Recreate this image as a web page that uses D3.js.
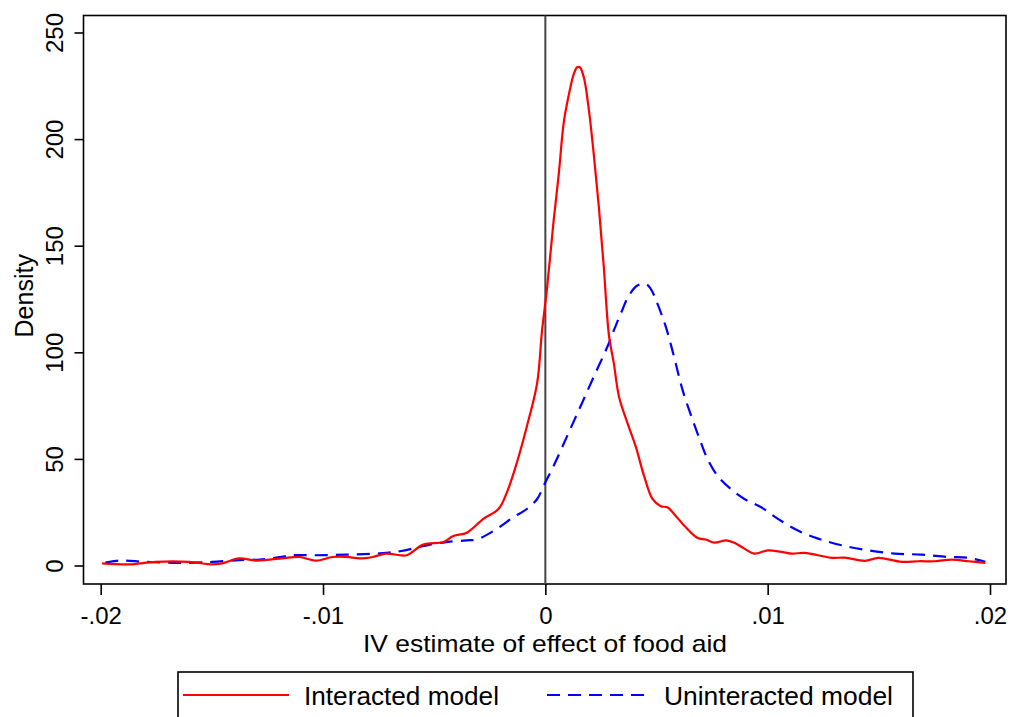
<!DOCTYPE html>
<html>
<head>
<meta charset="utf-8">
<script src="https://cdn.jsdelivr.net/npm/d3@7"></script>
<style>
  html, body { margin: 0; padding: 0; background: #fff; }
  svg { display: block; }
  text { font-family: "Liberation Sans", Arial, sans-serif; fill: #000; }
</style>
</head>
<body>
<svg id="chart" width="1010" height="717"></svg>
<script>
// ---- data ----
const interX = [-0.01994,-0.01874,-0.01753,-0.01603,-0.01499,-0.01454,-0.01377,-0.01302,-0.01166,-0.01106,-0.01031,-0.00957,-0.00895,-0.00835,-0.00777,-0.00715,-0.00654,-0.00624,-0.00549,-0.00459,-0.00414,-0.00353,-0.00279,-0.00211,-0.00173,-0.00128,-0.00083,-0.00037,-0.00015,0.00008,0.00037,0.0006,0.00083,0.00105,0.00128,0.00143,0.00155,0.00173,0.00195,0.00218,0.00241,0.00263,0.00286,0.00308,0.00331,0.00369,0.00406,0.00444,0.00482,0.00519,0.00549,0.00579,0.00624,0.00685,0.00722,0.0076,0.00813,0.0085,0.00895,0.0094,0.01001,0.01061,0.01106,0.01166,0.01227,0.01287,0.01347,0.01437,0.01498,0.01603,0.01678,0.01753,0.01828,0.01904,0.01979];
const interY = [1.0,0.5,1.7,1.7,0.5,1.0,3.3,2.3,3.6,4.0,2.3,4.0,4.0,3.3,4.0,5.6,4.8,4.8,9.8,11,13.8,15.4,21.9,26.5,34.3,48.3,65.3,85.5,110,130.5,161.5,183.3,208,220.5,230.6,233.7,233.7,229,214.3,192.6,167.7,139.8,108,94.8,79.3,66.9,56,42,31.2,27.8,27.3,24.2,18.8,12.9,12.2,10.7,11.8,10.7,7.9,5.6,7.1,6.4,5.6,5.9,4.8,3.6,3.7,2.2,3.6,1.7,2.0,2.0,2.8,2.0,1.2];

const uninterX = [-0.01979,-0.01919,-0.01798,-0.01648,-0.01498,-0.01377,-0.01287,-0.01196,-0.01136,-0.01046,-0.00895,-0.00745,-0.00654,-0.00519,-0.00444,-0.00353,-0.00308,-0.00218,-0.00143,-0.00083,-0.00037,0,0.00037,0.00098,0.00158,0.00218,0.00279,0.00308,0.00339,0.00376,0.00414,0.00451,0.00474,0.00504,0.00542,0.00579,0.00617,0.00662,0.007,0.0073,0.00775,0.00835,0.00895,0.00971,0.01046,0.01136,0.01227,0.01332,0.01452,0.01572,0.01693,0.01814,0.01904,0.01979];
const uninterY = [1.4,2.3,1.7,1.2,1.7,2.5,2.8,3.9,4.8,4.8,5.1,5.7,6.7,9.8,11,11.8,12.2,17.2,22.7,26.5,31.2,39,46.7,60.7,74.6,88.6,102.6,110.3,118.1,126.6,131.3,132.1,129.8,122.8,111.9,97.9,82.4,68.4,57.6,49.8,42,35.8,31.2,27.3,21.9,16.4,12.6,9.5,7.1,5.6,5.1,4.0,3.6,1.7];

const xTicks = [-0.02, -0.01, 0, 0.01, 0.02];
const xTickLabels = ["-.02", "-.01", "0", ".01", ".02"];
const yTicks = [0, 50, 100, 150, 200, 250];
const yTickLabels = ["0", "50", "100", "150", "200", "250"];
const seriesNames = ["Interacted model", "Uninteracted model"];
const xTitle = "IV estimate of effect of food aid";
const yTitle = "Density";

// ---- layout ----
const frame = { left: 83.5, right: 1006, top: 15.5, bottom: 584 };
const svg = d3.select("#chart");

const x = d3.scaleLinear().domain([-0.02, 0.02]).range([100.7, 990]);
const y = d3.scaleLinear().domain([0, 250]).range([565.5, 32.5]);

// frame
svg.append("rect")
  .attr("x", frame.left).attr("y", frame.top)
  .attr("width", frame.right - frame.left).attr("height", frame.bottom - frame.top)
  .attr("fill", "none").attr("stroke", "#000").attr("stroke-width", 1.6);

// y axis
const yAxis = svg.append("g")
  .attr("transform", `translate(${frame.left},0)`)
  .call(d3.axisLeft(y).tickValues(yTicks).tickSize(9)
    .tickFormat((d, i) => yTickLabels[i]));
yAxis.select(".domain").remove();
yAxis.selectAll(".tick line").attr("stroke", "#000").attr("stroke-width", 1.6);
yAxis.selectAll(".tick text")
  .attr("x", 0).attr("y", 0).attr("dy", 0)
  .attr("transform", "translate(-21,0) rotate(-90)")
  .attr("text-anchor", "middle")
  .style("font-size", "24px")
  .style("font-family", '"Liberation Sans", Arial, sans-serif')
  .attr("fill", "#000");

// x axis
const xAxis = svg.append("g")
  .attr("transform", `translate(0,${frame.bottom})`)
  .call(d3.axisBottom(x).tickValues(xTicks).tickSize(11)
    .tickFormat((d, i) => xTickLabels[i]));
xAxis.select(".domain").remove();
xAxis.selectAll(".tick line").attr("stroke", "#000").attr("stroke-width", 1.6);
xAxis.selectAll(".tick text")
  .attr("y", 40).attr("dy", 0)
  .attr("text-anchor", "middle")
  .style("font-size", "24px")
  .style("font-family", '"Liberation Sans", Arial, sans-serif')
  .attr("fill", "#000");

// axis titles
svg.append("text")
  .attr("x", 545).attr("y", 652)
  .attr("text-anchor", "middle")
  .attr("textLength", 364).attr("lengthAdjust", "spacingAndGlyphs")
  .style("font-size", "24px")
  .text(xTitle);

svg.append("text")
  .attr("transform", `translate(33,${(frame.top + frame.bottom) / 2 - 4}) rotate(-90)`)
  .attr("text-anchor", "middle")
  .style("font-size", "25px")
  .text(yTitle);

// zero reference line
svg.append("line")
  .attr("x1", x(0)).attr("x2", x(0))
  .attr("y1", frame.top).attr("y2", frame.bottom)
  .attr("stroke", "#444").attr("stroke-width", 2);

// curves
const line = d3.line()
  .x(d => x(d[0])).y(d => y(d[1]))
  .curve(d3.curveCatmullRom.alpha(0.5));

const interData = interX.map((v, i) => [v, interY[i]]);
const uninterData = uninterX.map((v, i) => [v, uninterY[i]]);

svg.append("path")
  .datum(uninterData)
  .attr("d", line)
  .attr("fill", "none").attr("stroke", "#0000ff").attr("stroke-width", 2.2)
  .attr("stroke-dasharray", "13,8");

svg.append("path")
  .datum(interData)
  .attr("d", line)
  .attr("fill", "none").attr("stroke", "#ff0000").attr("stroke-width", 2.2);

// legend
const lg = svg.append("g");
lg.append("rect")
  .attr("x", 178).attr("y", 672).attr("width", 735).attr("height", 70)
  .attr("fill", "#fff").attr("stroke", "#000").attr("stroke-width", 1.6);
lg.append("line")
  .attr("x1", 183).attr("x2", 289).attr("y1", 695).attr("y2", 695)
  .attr("stroke", "#ff0000").attr("stroke-width", 2.2);
lg.append("text")
  .attr("x", 304).attr("y", 705)
  .attr("textLength", 195).attr("lengthAdjust", "spacingAndGlyphs")
  .style("font-size", "25px")
  .text(seriesNames[0]);
lg.append("line")
  .attr("x1", 547).attr("x2", 652).attr("y1", 695).attr("y2", 695)
  .attr("stroke", "#0000ff").attr("stroke-width", 2.2)
  .attr("stroke-dasharray", "13,8");
lg.append("text")
  .attr("x", 664).attr("y", 705)
  .attr("textLength", 229).attr("lengthAdjust", "spacingAndGlyphs")
  .style("font-size", "25px")
  .text(seriesNames[1]);
</script>
</body>
</html>
